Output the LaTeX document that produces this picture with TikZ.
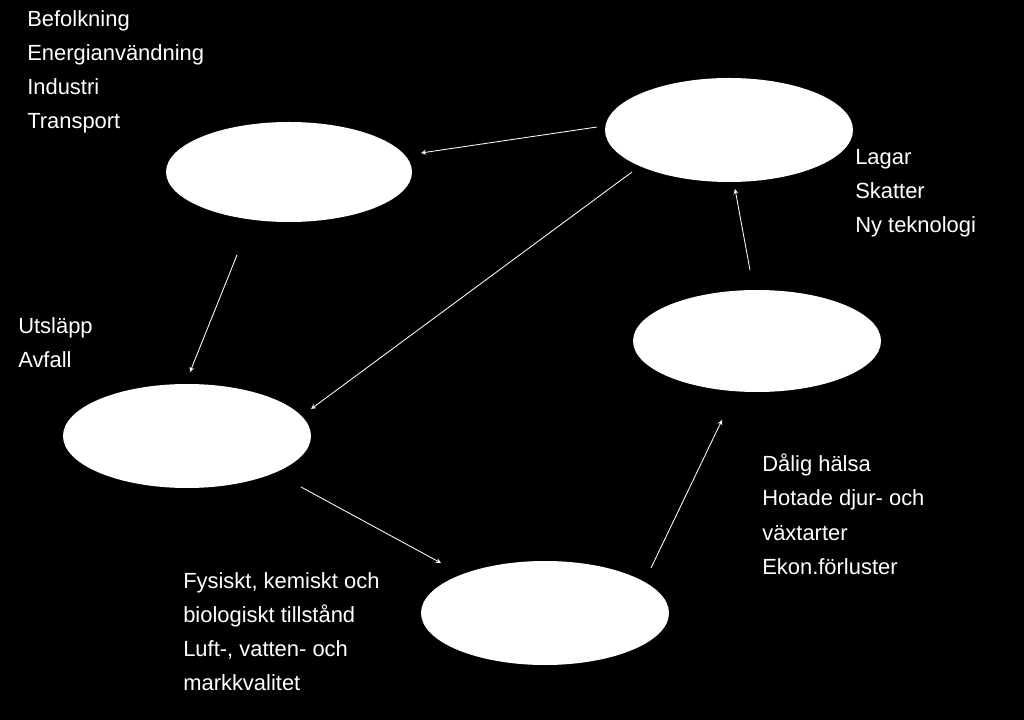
\documentclass[tikz,border=0pt]{standalone}
\usepackage{fontspec}
\setmainfont{Liberation Sans}
\usetikzlibrary{arrows}
\usetikzlibrary{positioning}
\begin{document}
\begin{tikzpicture}
        [x=0.025cm,y=-0.025cm,
        stage/.style={ellipse,fill=white,minimum width=248\pgflinewidth,inner sep=0pt},
        note/.style={anchor=north west,inner sep=0pt,align=left,text=white,
          font=\fontsize{15.6}{24.2}\selectfont},
        to/.style={->,>=stealth,white,semithick,shorten >=6pt,shorten <=6pt}]

\fill[black] (0,0) rectangle (1024,720);

% ellipses
\fill[white] (289,172) ellipse [x radius=123,y radius=50];
\coordinate (driver) at (289,172);
\fill[white] (729,130) ellipse [x radius=124,y radius=52];
\coordinate (response) at (729,130);
\fill[white] (187,436) ellipse [x radius=124,y radius=52];
\coordinate (pressure) at (187,436);
\fill[white] (757,341) ellipse [x radius=124,y radius=51];
\coordinate (impact) at (757,341);
\fill[white] (545,613) ellipse [x radius=124,y radius=52];
\coordinate (state) at (545,613);

% texts
\node[note] (drivertext) at (27,10) {Befolkning\\Energianvändning\\Industri\\Transport};
\node[note] (responsetext) at (855,149) {Lagar\\Skatter\\Ny teknologi};
\node[note] (pressuretext) at (18,317) {Utsläpp\\Avfall};
\node[note] (impacttext) at (762,454) {Dålig hälsa\\Hotade djur- och\\växtarter\\Ekon.förluster};
\node[note] (statetext) at (183,572) {Fysiskt, kemiskt och\\biologiskt tillstånd\\Luft-, vatten- och\\markkvalitet};

% arrows
\coordinate (a1) at (597,127); \coordinate (b1) at (421,153);
\coordinate (a2) at (237,255); \coordinate (b2) at (190,372);
\coordinate (a3) at (632,172); \coordinate (b3) at (311,409);
\coordinate (a4) at (301,487); \coordinate (b4) at (441,563);
\coordinate (a5) at (651,568); \coordinate (b5) at (722,420);
\coordinate (a6) at (750,270); \coordinate (b6) at (735,189);
\foreach \i in {1,...,6}
  \draw[->,>=stealth,white,semithick] (a\i) -- (b\i);

\end{tikzpicture}
\end{document}
